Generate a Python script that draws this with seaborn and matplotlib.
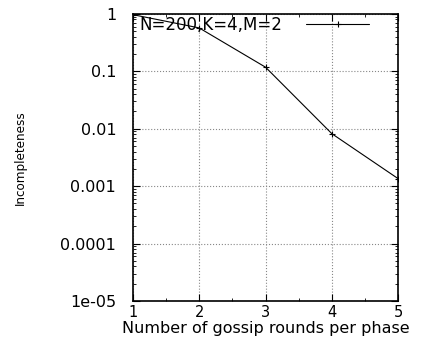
import numpy as np
import pandas as pd
import seaborn as sns
import matplotlib
matplotlib.use('Agg')
from matplotlib import pyplot as plt
from matplotlib.ticker import FixedLocator, LogLocator, NullFormatter

rounds = [1, 2, 3, 4, 5]
incompleteness = [0.97, 0.57, 0.118, 0.0082, 0.00135]
series_label = 'N=200,K=4,M=2'
ytick_vals = [1e-05, 1e-04, 1e-03, 1e-02, 1e-01, 1]
ytick_labels = ['1e-05', '0.0001', '0.001', '0.01', '0.1', '1']

df = pd.DataFrame({'rounds': rounds, 'inc': incompleteness})

sns.set_style('ticks')
plt.rcParams['font.family'] = ['DejaVu Sans']
plt.rcParams['text.color'] = 'black'
plt.rcParams['axes.labelcolor'] = 'black'

fig = plt.figure(figsize=(4.4, 3.39), dpi=100)
ax = fig.add_axes([0.302, 0.112, 0.603, 0.847])

sns.lineplot(data=df, x='rounds', y='inc', ax=ax, color='black', linewidth=0.8,
             marker='+', markersize=4, markeredgewidth=0.8,
             markeredgecolor='black', label=series_label)

ax.set_yscale('log')
ax.set_xlim(1, 5)
ax.set_ylim(1e-05, 1)
ax.set_xticks(rounds)
ax.set_xticklabels([str(r) for r in rounds])
ax.xaxis.set_minor_locator(FixedLocator([1.5, 2.5, 3.5, 4.5]))
ax.set_yticks(ytick_vals)
ax.set_yticklabels(ytick_labels)
ax.yaxis.set_minor_locator(LogLocator(base=10, subs=np.arange(2, 10)))
ax.yaxis.set_minor_formatter(NullFormatter())

ax.grid(True, which='major', linestyle=':', color='#888888', linewidth=0.8)
ax.tick_params(which='both', direction='in', top=True, right=True, colors='black')
ax.tick_params(which='major', length=5, width=0.8)
ax.tick_params(which='minor', length=2.5, width=0.6)
ax.tick_params(axis='y', pad=12, labelsize=11.5)
ax.tick_params(axis='x', pad=3, labelsize=10.5)
for s in ax.spines.values():
    s.set_linewidth(1.2)
    s.set_color('black')

ax.set_xlabel('Number of gossip rounds per phase', fontsize=11.5, labelpad=0.5)
ax.set_ylabel('Incompleteness', fontsize=9.5, labelpad=24,
              fontstretch='condensed')

leg = ax.legend(loc='upper left', frameon=False, markerfirst=False, fontsize=12,
                handlelength=3.8, handletextpad=1.4, borderaxespad=0.0,
                borderpad=0.1, bbox_to_anchor=(0.02, 1.0))

fig.savefig('out.png', dpi=100)
